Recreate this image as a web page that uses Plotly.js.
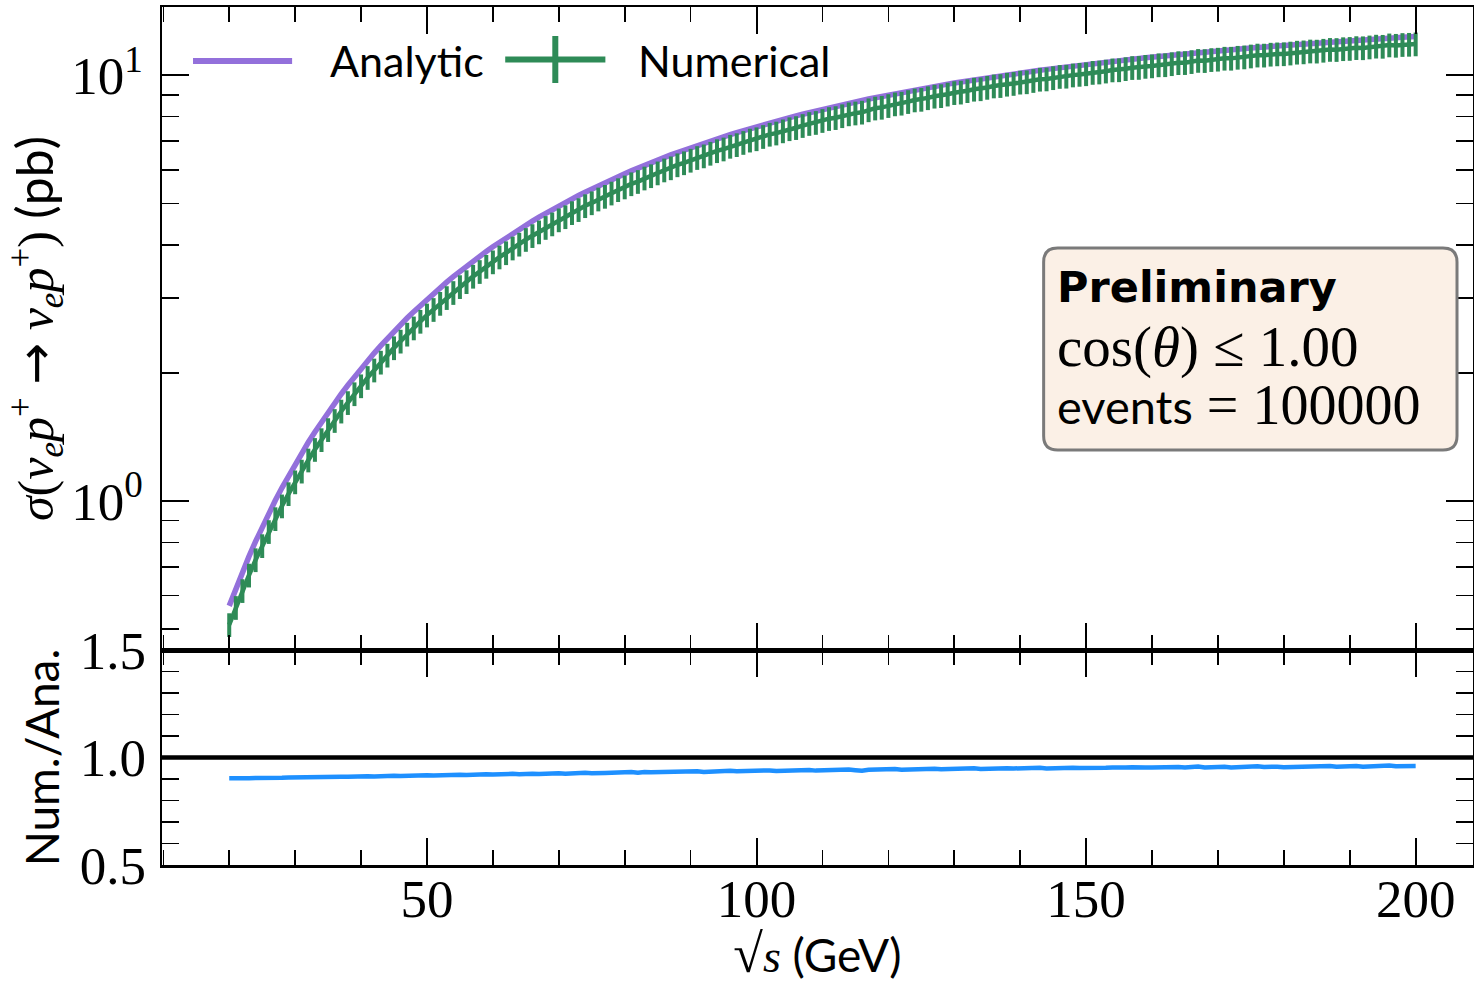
<!DOCTYPE html>
<html>
<head>
<meta charset="utf-8">
<script src="https://cdn.plot.ly/plotly-3.0.1.min.js"></script>
<style>html,body{margin:0;padding:0;background:#fff;}#chart{width:1474px;height:984px;}</style>
</head>
<body>
<div id="chart"></div>
<script>
// sqrt(s) in GeV
const sqrtS = [20,21,22,23,24,25,26,27,28,29,30,31,32,33,34,35,36,37,38,39,40,41,42,43,44,45,46,47,48,49,50,51,52,53,54,55,56,57,58,59,60,61,62,63,64,65,66,67,68,69,70,71,72,73,74,75,76,77,78,79,80,81,82,83,84,85,86,87,88,89,90,91,92,93,94,95,96,97,98,99,100,101,102,103,104,105,106,107,108,109,110,111,112,113,114,115,116,117,118,119,120,121,122,123,124,125,126,127,128,129,130,131,132,133,134,135,136,137,138,139,140,141,142,143,144,145,146,147,148,149,150,151,152,153,154,155,156,157,158,159,160,161,162,163,164,165,166,167,168,169,170,171,172,173,174,175,176,177,178,179,180,181,182,183,184,185,186,187,188,189,190,191,192,193,194,195,196,197,198,199,200];

// Analytic cross section (pb)
const analyticXS = [0.5673,0.6231,0.6812,0.7415,0.8040,0.8686,0.9353,1.0039,1.0744,1.1467,
1.2209,1.2968,1.3742,1.4533,1.5339,1.6161,1.6996,1.7843,1.8703,1.9576,
2.0459,2.1352,2.2257,2.3170,2.4093,2.5020,2.5961,2.6901,2.7852,2.8809,
2.9771,3.0739,3.1707,3.2677,3.3657,3.4636,3.5616,3.6594,3.7581,3.8566,
3.9554,4.0530,4.1511,4.2495,4.3478,4.4457,4.5441,4.6413,4.7388,4.8357,
4.9320,5.0274,5.1232,5.2190,5.3134,5.4092,5.5026,5.5954,5.6893,5.7815,
5.8735,5.9633,6.0559,6.1447,6.2350,6.3235,6.4118,6.5000,6.5855,6.6724,
6.7573,6.8421,6.9259,7.0093,7.0922,7.1741,7.2551,7.3357,7.4155,7.4946,
7.5728,7.6504,7.7274,7.8033,7.8787,7.9532,8.0272,8.1004,8.1728,8.2445,
8.3154,8.3856,8.4552,8.5239,8.5920,8.6594,8.7261,8.7920,8.8572,8.9218,
8.9856,9.0488,9.1113,9.1730,9.2341,9.2946,9.3543,9.4135,9.4719,9.5297,
9.5869,9.6434,9.6993,9.7546,9.8092,9.8633,9.9167,9.9696,10.0218,10.0734,
10.1245,10.1750,10.2249,10.2742,10.3230,10.3713,10.4189,10.4660,10.5126,10.5587,
10.6042,10.6492,10.6937,10.7377,10.7813,10.8243,10.8668,10.9088,10.9504,10.9914,
11.0321,11.0722,11.1119,11.1511,11.1900,11.2283,11.2662,11.3037,11.3407,11.3774,
11.4137,11.4495,11.4850,11.5200,11.5546,11.5889,11.6227,11.6561,11.6893,11.7220,
11.7544,11.7864,11.8181,11.8494,11.8804,11.9110,11.9413,11.9713,12.0009,12.0302,
12.0591,12.0878,12.1160,12.1441,12.1718,12.1993,12.2264,12.2533,12.2798,12.3060,
12.3320];

// Numerical / Analytic ratio
const ratioNumAna = [0.903,0.902,0.904,0.903,0.905,0.904,0.906,0.905,0.906,0.907,
0.908,0.906,0.908,0.909,0.908,0.910,0.909,0.911,0.910,0.912,
0.911,0.913,0.912,0.914,0.913,0.915,0.914,0.916,0.915,0.917,
0.918,0.916,0.918,0.919,0.917,0.920,0.919,0.921,0.920,0.922,
0.921,0.923,0.922,0.924,0.922,0.925,0.924,0.923,0.926,0.925,
0.927,0.925,0.928,0.926,0.929,0.927,0.930,0.928,0.929,0.931,
0.930,0.932,0.929,0.933,0.931,0.932,0.934,0.932,0.935,0.933,
0.934,0.936,0.933,0.935,0.937,0.935,0.938,0.936,0.937,0.939,
0.936,0.938,0.940,0.937,0.939,0.941,0.938,0.940,0.942,0.939,
0.941,0.943,0.940,0.942,0.944,0.941,0.938,0.943,0.945,0.942,
0.944,0.946,0.943,0.945,0.947,0.944,0.946,0.948,0.945,0.947,
0.949,0.946,0.948,0.950,0.947,0.949,0.951,0.948,0.950,0.949,
0.951,0.948,0.950,0.952,0.949,0.951,0.953,0.950,0.952,0.951,
0.950,0.953,0.951,0.952,0.954,0.951,0.953,0.955,0.952,0.954,
0.953,0.955,0.952,0.954,0.956,0.953,0.955,0.958,0.954,0.956,
0.955,0.957,0.954,0.956,0.955,0.957,0.959,0.956,0.958,0.957,
0.955,0.956,0.958,0.957,0.959,0.956,0.958,0.960,0.957,0.959,
0.958,0.960,0.957,0.959,0.961,0.958,0.963,0.959,0.961,0.960,
0.960];

// Relative statistical uncertainty of the numerical result (%)
const numericalRelErrPct = 6.4;

const xMajorTicks = [50, 100, 150, 200];
const ySigmaTickVals = [1, 10];
const ySigmaTickText = ['10<sup>0</sup>', '10<sup>1</sup>'];
const ySigmaMinorVals = [0.5,0.6,0.7,0.8,0.9,2,3,4,5,6,7,8,9];
const yRatioTickVals = [0.5, 1.0, 1.5];
const yRatioTickText = ['0.5', '1.0', '1.5'];

const numericalXS = analyticXS.map((a, i) => a * ratioNumAna[i]);

const PURPLE = '#9370DB', GREEN = '#2E8B57', BLUE = '#1E90FF';
const SERIF = 'Liberation Serif, DejaVu Serif, serif';
const SANS = 'Lato, DejaVu Sans, sans-serif';

const traces = [
  {x: sqrtS, y: analyticXS, xaxis: 'x2', yaxis: 'y2', type: 'scatter', mode: 'lines',
   name: 'Analytic', line: {color: PURPLE, width: 5.5}},
  {x: sqrtS, y: numericalXS, xaxis: 'x2', yaxis: 'y2', type: 'scatter', mode: 'lines',
   name: 'Numerical', line: {color: GREEN, width: 4.5},
   error_y: {type: 'percent', value: numericalRelErrPct, color: GREEN, thickness: 4, width: 0}},
  {x: sqrtS, y: ratioNumAna, xaxis: 'x', yaxis: 'y', type: 'scatter', mode: 'lines',
   name: 'Num./Ana.', line: {color: BLUE, width: 4.5}}
];

const split = 215 / 858;
const axisCommon = {
  showline: true, linecolor: '#000', linewidth: 2.5, mirror: 'allticks',
  ticks: 'inside', ticklen: 27, tickwidth: 2, tickcolor: '#000',
  showgrid: false, zeroline: false,
  tickfont: {family: SERIF, size: 53, color: '#000'}
};

const layout = {
  width: 1474, height: 984,
  margin: {l: 162, r: 1, t: 7, b: 119},
  paper_bgcolor: '#fff', plot_bgcolor: '#fff',
  showlegend: false,
  xaxis: Object.assign({}, axisCommon, {
    domain: [0, 1], anchor: 'y', range: [9.8, 208.7],
    tickmode: 'array', tickvals: xMajorTicks, ticktext: xMajorTicks.map(String),
    ticklabelstandoff: -14,
    minor: {tickmode: 'linear', tick0: 0, dtick: 10, ticklen: 15, tickwidth: 1.6, tickcolor: '#000', ticks: 'inside'},
    title: {text: '<span style="font-size:54px">√</span><i>s</i> <span style="font-family:Lato">(GeV)</span>', font: {family: SERIF, size: 46, color: '#000'}, standoff: 12}
  }),
  yaxis: Object.assign({}, axisCommon, {
    domain: [0, split], anchor: 'x', range: [0.5, 1.5],
    tickmode: 'array', tickvals: yRatioTickVals, ticktext: yRatioTickText,
    ticklabelstandoff: 3,
    minor: {tickmode: 'linear', tick0: 0, dtick: 0.1, ticklen: 17, tickwidth: 1.6, tickcolor: '#000', ticks: 'inside'},
    title: {text: 'Num./Ana.', font: {family: SANS, size: 46, color: '#000'}, standoff: 6}
  }),
  xaxis2: Object.assign({}, axisCommon, {
    domain: [0, 1], anchor: 'y2', matches: 'x', showticklabels: false,
    tickmode: 'array', tickvals: xMajorTicks,
    minor: {tickmode: 'linear', tick0: 0, dtick: 10, ticklen: 15, tickwidth: 1.6, tickcolor: '#000', ticks: 'inside'}
  }),
  yaxis2: Object.assign({}, axisCommon, {
    domain: [split, 1], anchor: 'x2', type: 'log', range: [-0.3498, 1.1603],
    tickmode: 'array', tickvals: ySigmaTickVals, ticktext: ySigmaTickText,
    ticklabelstandoff: 6,
    minor: {tickmode: 'array', tickvals: ySigmaMinorVals, ticklen: 17, tickwidth: 1.6, tickcolor: '#000', ticks: 'inside'},
    title: {text: '<i>σ</i>(<i>ν</i><sub><i>e</i></sub><i>p</i><sup>+</sup> <span style="font-family:DejaVu Sans">→</span> <i>ν</i><sub><i>e</i></sub><i>p</i><sup>+</sup>) <span style="font-family:Lato">(pb)</span>',
            font: {family: SERIF, size: 50, color: '#000'}, standoff: 2}
  }),
  shapes: [
    // reference line at ratio = 1
    {type: 'line', xref: 'paper', yref: 'y', x0: 0, x1: 1, y0: 1, y1: 1, line: {color: '#000', width: 4.5}, layer: 'above'},
    // info box (rounded)
    {type: 'path', xref: 'paper', yref: 'paper', layer: 'above',
     path: 'M 0.68319,0.7191 L 0.97711,0.7191 Q 0.9878,0.7191 0.9878,0.70278 L 0.9878,0.50002 Q 0.9878,0.4837 0.97711,0.4837 L 0.68319,0.4837 Q 0.6725,0.4837 0.6725,0.50002 L 0.6725,0.70278 Q 0.6725,0.7191 0.68319,0.7191 Z',
     fillcolor: '#FBF0E6', line: {color: '#7a7a7a', width: 3}},
    // manual legend samples
    {type: 'line', xref: 'paper', yref: 'paper', x0: 0.02366, x1: 0.09924, y0: 0.9371, y1: 0.9371, line: {color: PURPLE, width: 6}},
    {type: 'line', xref: 'paper', yref: 'paper', x0: 0.2618, x1: 0.3382, y0: 0.9388, y1: 0.9388, line: {color: GREEN, width: 6}},
    {type: 'line', xref: 'paper', yref: 'paper', x0: 0.3, x1: 0.3, y0: 0.9114, y1: 0.9662, line: {color: GREEN, width: 6}}
  ],
  annotations: [
    {xref: 'paper', yref: 'paper', x: 0.1265, y: 0.9375, xanchor: 'left', yanchor: 'middle', showarrow: false,
     text: 'Analytic', font: {family: SANS, size: 43, color: '#000'}},
    {xref: 'paper', yref: 'paper', x: 0.3615, y: 0.9375, xanchor: 'left', yanchor: 'middle', showarrow: false,
     text: 'Numerical', font: {family: SANS, size: 43, color: '#000'}},
    {xref: 'paper', yref: 'paper', x: 0.681, y: 0.6737, xanchor: 'left', yanchor: 'middle', showarrow: false,
     text: '<b>Preliminary</b>', font: {family: 'DejaVu Sans', size: 43, color: '#000'}},
    {xref: 'paper', yref: 'paper', x: 0.681, y: 0.6037, xanchor: 'left', yanchor: 'middle', showarrow: false,
     text: 'cos(<i>θ</i>) ≤ 1.00', font: {family: SERIF, size: 57, color: '#000'}},
    {xref: 'paper', yref: 'paper', x: 0.681, y: 0.5361, xanchor: 'left', yanchor: 'middle', showarrow: false,
     text: '<span style="font-family:Lato;font-size:47px">events</span> = 100000', font: {family: SERIF, size: 56, color: '#000'}}
  ]
};

Plotly.newPlot('chart', traces, layout, {staticPlot: true, displayModeBar: false});
</script>
</body>
</html>
